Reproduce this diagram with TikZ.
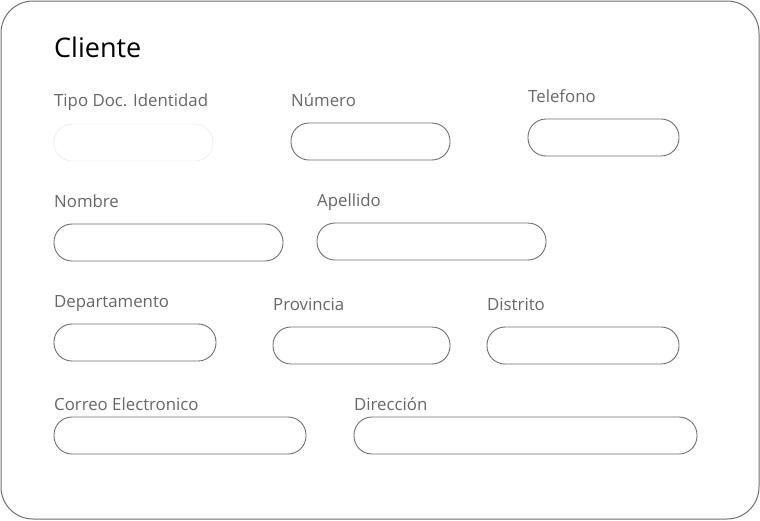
\documentclass[tikz,border=0pt]{standalone}
\usepackage{fontspec}
\setmainfont{Open Sans}
\definecolor{edge}{HTML}{6E6E6E}
\definecolor{lbl}{HTML}{666666}
\definecolor{faint}{HTML}{F0F0F0}
\begin{document}
\begin{tikzpicture}[x=1pt,y=-1pt,
  field/.style={draw=edge,line width=0.9pt,rounded corners=18pt},
  fieldfaint/.style={draw=faint,line width=0.9pt,rounded corners=18pt},
  lab/.style={anchor=base west,inner sep=0pt,text=lbl,font=\fontsize{16.8}{19}\selectfont},
  ttl/.style={anchor=base west,inner sep=0pt,text=black,font=\fontsize{27}{30}\selectfont}]
\useasboundingbox (0,0) rectangle (760,520);
\draw[draw=edge,line width=1pt,rounded corners=32pt] (1,1) rectangle (759,519);
\node[ttl] (title) at (54,57) {Cliente};
% row 1
\node[lab] (ltipo) at (54,106) {Tipo Doc. Identidad};
\draw[fieldfaint] (54,124) rectangle (213,161);
\node[lab] (lnum) at (291,106) {Número};
\draw[field] (291,123) rectangle (450,160);
\node[lab] (ltel) at (528,102) {Telefono};
\draw[field] (528,119) rectangle (679,156);
% row 2
\node[lab] (lnom) at (54,207) {Nombre};
\draw[field] (54,224) rectangle (283,261);
\node[lab] (lape) at (317,206) {Apellido};
\draw[field] (317,223) rectangle (546,260);
% row 3
\node[lab] (ldep) at (54,307) {Departamento};
\draw[field] (54,324) rectangle (216,361);
\node[lab] (lpro) at (273,310) {Provincia};
\draw[field] (273,327) rectangle (450,364);
\node[lab] (ldis) at (487,310) {Distrito};
\draw[field] (487,327) rectangle (679,364);
% row 4
\node[lab] (lcor) at (54,410) {Correo Electronico};
\draw[field] (54,417) rectangle (306,454);
\node[lab] (ldir) at (354,410) {Dirección};
\draw[field] (354,417) rectangle (697,454);
\end{tikzpicture}
\end{document}
